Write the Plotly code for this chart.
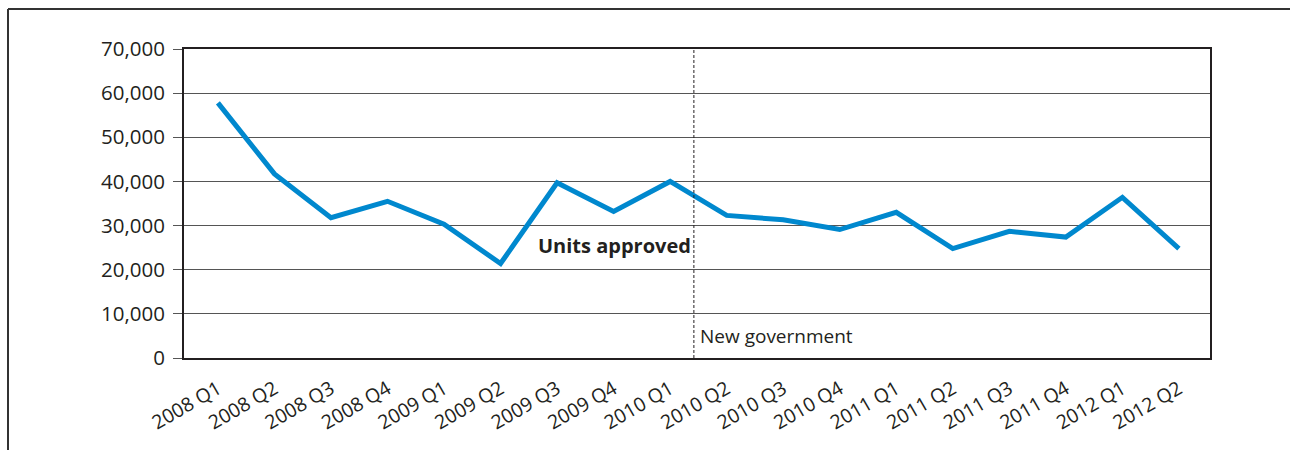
#!/usr/bin/env python3

import plotly.graph_objects as go

quarters = [
    "2008 Q1", "2008 Q2", "2008 Q3", "2008 Q4",
    "2009 Q1", "2009 Q2", "2009 Q3", "2009 Q4",
    "2010 Q1", "2010 Q2", "2010 Q3", "2010 Q4",
    "2011 Q1", "2011 Q2", "2011 Q3", "2011 Q4",
    "2012 Q1", "2012 Q2",
]
units_approved = [
    57800, 41700, 31800, 35500,
    30300, 21400, 39700, 33200,
    40000, 32300, 31300, 29100,
    33000, 24800, 28700, 27400,
    36400, 24800,
]
y_ticks = [0, 10000, 20000, 30000, 40000, 50000, 60000, 70000]
y_tick_labels = ["0", "10,000", "20,000", "30,000", "40,000", "50,000", "60,000", "70,000"]

# where the change of government falls between 2010 Q1 and 2010 Q2
new_gov_x = 8.42

FONT = "Open Sans"

if __name__ == "__main__":
    fig = go.Figure()
    fig.add_trace(go.Scatter(
        x=list(range(len(quarters))), y=units_approved, mode="lines",
        line=dict(color="#0088CE", width=5),
        showlegend=False, hoverinfo="skip",
    ))

    fig.update_layout(
        width=1290, height=450,
        margin=dict(l=184, r=80, t=49, b=92),
        paper_bgcolor="white", plot_bgcolor="white",
        font=dict(family=FONT, color="#231f20"),
        xaxis=dict(
            tickmode="array", tickvals=list(range(len(quarters))), ticktext=quarters,
            range=[-0.6, 17.55], tickangle=-30, tickfont=dict(size=19.5),
            ticklabelstandoff=10,
            showgrid=False, zeroline=False,
            showline=True, linecolor="#231f20", linewidth=2, mirror=True,
            ticks="",
        ),
        yaxis=dict(
            range=[0, 70000], tickvals=y_ticks, ticktext=y_tick_labels,
            tickfont=dict(size=20.5), ticklabelstandoff=4,
            showgrid=True, gridcolor="#555555", gridwidth=1, zeroline=False,
            showline=True, linecolor="#231f20", linewidth=2, mirror=True,
            ticks="outside", ticklen=9, tickcolor="#555555", tickwidth=1,
        ),
    )

    # dashed marker for the new government
    fig.add_shape(type="line", xref="x", yref="paper",
                  x0=new_gov_x, x1=new_gov_x, y0=0, y1=1,
                  line=dict(color="#231f20", width=1, dash="3px,2px"))

    fig.add_annotation(x=new_gov_x, y=25400, xref="x", yref="y",
                       text="<b>Units approved</b>", showarrow=False,
                       xanchor="right", yanchor="middle", xshift=-1,
                       font=dict(size=20, color="#231f20", family=FONT))
    fig.add_annotation(x=new_gov_x, y=5000, xref="x", yref="y",
                       text="New government", showarrow=False,
                       xanchor="left", yanchor="middle", xshift=4,
                       font=dict(size=19, color="#231f20", family=FONT))

    # outer frame (top and left edges)
    fig.add_shape(type="line", xref="paper", yref="paper",
                  x0=(8 - 184) / 1026, x1=(1292 - 184) / 1026,
                  y0=1 + (49 - 9) / 309, y1=1 + (49 - 9) / 309,
                  line=dict(color="#333333", width=2))
    fig.add_shape(type="line", xref="paper", yref="paper",
                  x0=(8 - 184) / 1026, x1=(8 - 184) / 1026,
                  y0=1 + (49 - 9) / 309, y1=-(452 - 358) / 309,
                  line=dict(color="#333333", width=2))

    fig.write_html("out.html", config={"displayModeBar": False},
                   post_script="document.body.style.margin='0';")
